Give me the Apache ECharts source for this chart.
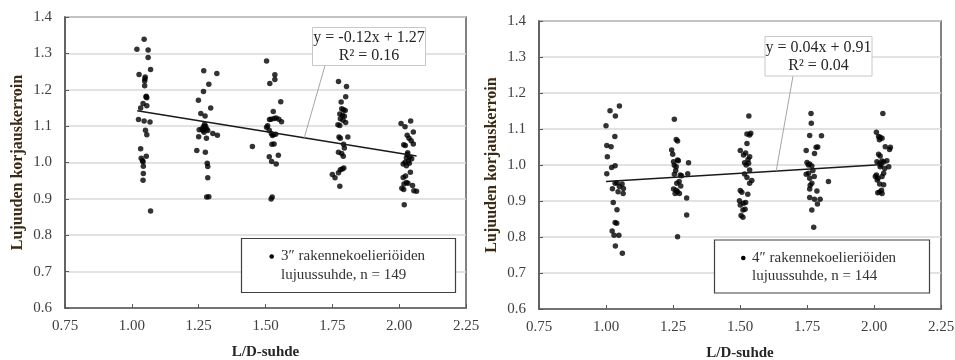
<!DOCTYPE html>
<html><head><meta charset="utf-8">
<script src="https://cdn.jsdelivr.net/npm/echarts@6/dist/echarts.min.js"></script>
<style>html,body{margin:0;padding:0;background:#fff}#c{width:955px;height:360px}</style>
</head><body><div id="c"></div>
<script>
// ---- data ----
var xTicks = [0.75, 1.00, 1.25, 1.50, 1.75, 2.00, 2.25];
var yTicks = [0.6, 0.7, 0.8, 0.9, 1.0, 1.1, 1.2, 1.3, 1.4];

// 3" specimens, n = 149
var s3_g100 = [[1.046,1.339],[1.019,1.311],[1.061,1.309],[1.061,1.289],[1.070,1.256],[1.027,1.242],[1.050,1.235],[1.048,1.224],[1.048,1.211],[1.054,1.182],[1.056,1.178],[1.042,1.162],[1.056,1.156],[1.033,1.150],[1.025,1.118],[1.046,1.114],[1.068,1.111],[1.051,1.089],[1.056,1.076],[1.033,1.038],[1.054,1.017],[1.035,1.012],[1.042,1.002],[1.043,0.990],[1.043,0.970],[1.042,0.951],[1.070,0.867],[1.049,1.230],[1.040,1.005],[1.053,1.180]];
var s3_g125 = [[1.269,1.252],[1.318,1.245],[1.288,1.215],[1.268,1.195],[1.249,1.171],[1.295,1.150],[1.258,1.135],[1.274,1.128],[1.272,1.105],[1.268,1.098],[1.273,1.094],[1.262,1.092],[1.252,1.090],[1.266,1.088],[1.280,1.092],[1.284,1.088],[1.276,1.100],[1.303,1.080],[1.320,1.075],[1.250,1.071],[1.279,1.067],[1.243,1.033],[1.275,1.028],[1.282,0.998],[1.284,0.989],[1.284,0.958],[1.280,0.905],[1.288,0.906],[1.270,1.083]];
var s3_g150 = [[1.504,1.279],[1.535,1.241],[1.535,1.228],[1.516,1.217],[1.557,1.167],[1.529,1.140],[1.521,1.119],[1.515,1.118],[1.532,1.121],[1.540,1.122],[1.550,1.119],[1.560,1.112],[1.504,1.097],[1.514,1.089],[1.522,1.080],[1.530,1.077],[1.538,1.078],[1.526,1.074],[1.532,1.051],[1.524,1.050],[1.514,1.016],[1.548,1.020],[1.523,1.003],[1.540,0.996],[1.451,1.044],[1.525,0.905],[1.521,0.900],[1.508,1.101]];
var s3_g175 = [[1.773,1.223],[1.803,1.209],[1.800,1.181],[1.783,1.166],[1.785,1.148],[1.792,1.145],[1.798,1.143],[1.778,1.133],[1.788,1.130],[1.795,1.127],[1.780,1.120],[1.790,1.116],[1.800,1.110],[1.771,1.104],[1.778,1.102],[1.775,1.070],[1.780,1.067],[1.808,1.070],[1.792,1.050],[1.795,1.040],[1.773,1.028],[1.785,1.025],[1.791,1.017],[1.780,0.980],[1.787,0.982],[1.793,0.985],[1.773,0.972],[1.750,0.967],[1.760,0.958],[1.778,0.935]];
var s3_g200 = [[2.007,1.107],[2.043,1.114],[2.022,1.098],[2.053,1.084],[2.030,1.075],[2.037,1.067],[2.017,1.049],[2.023,1.047],[2.053,1.051],[2.030,1.022],[2.040,1.015],[2.027,1.013],[2.047,1.010],[2.035,1.004],[2.022,1.001],[2.038,0.998],[2.015,0.996],[2.027,0.991],[2.042,0.973],[2.024,0.963],[2.015,0.959],[2.027,0.945],[2.018,0.941],[2.033,0.943],[2.050,0.937],[2.010,0.929],[2.017,0.926],[2.055,0.922],[2.065,0.921],[2.019,0.884],[2.032,1.027],[2.045,1.060]];
var s3_trend = [[1.02,1.142],[2.065,1.018]];
var s3_eq = ['y = -0.12x + 1.27', 'R² = 0.16'];
var s3_legend = ['3″ rakennekoelieriöiden', 'lujuussuhde, n = 149'];

// 4" specimens, n = 144
var s4_g100 = [[1.050,1.164],[1.015,1.151],[1.035,1.136],[1.000,1.109],[1.033,1.079],[1.003,1.054],[1.019,1.051],[1.005,1.023],[1.034,0.998],[1.021,0.993],[1.003,0.976],[1.034,0.949],[1.041,0.951],[1.060,0.947],[1.050,0.940],[1.065,0.935],[1.024,0.934],[1.045,0.926],[1.027,0.896],[1.041,0.876],[1.034,0.840],[1.040,0.838],[1.023,0.817],[1.030,0.805],[1.048,0.805],[1.035,0.775],[1.061,0.755],[1.064,0.921]];
var s4_g125 = [[1.255,1.127],[1.262,1.071],[1.267,1.067],[1.245,1.042],[1.249,1.030],[1.252,1.009],[1.267,1.014],[1.255,0.999],[1.262,0.995],[1.308,1.006],[1.277,0.972],[1.255,0.974],[1.305,0.976],[1.273,0.954],[1.264,0.949],[1.279,0.942],[1.252,0.933],[1.267,0.926],[1.274,0.921],[1.258,0.921],[1.301,0.908],[1.301,0.861],[1.267,0.801],[1.270,1.012],[1.260,0.985],[1.282,0.970],[1.262,0.930]];
var s4_g150 = [[1.533,1.136],[1.526,1.086],[1.536,1.083],[1.526,1.060],[1.501,1.040],[1.521,1.033],[1.513,1.028],[1.536,1.023],[1.517,1.006],[1.532,1.005],[1.523,1.000],[1.536,0.986],[1.517,0.975],[1.526,0.965],[1.544,0.957],[1.536,0.949],[1.529,0.919],[1.501,0.929],[1.507,0.924],[1.498,0.901],[1.513,0.894],[1.501,0.889],[1.521,0.896],[1.519,0.877],[1.511,0.875],[1.504,0.860],[1.511,0.855],[1.540,1.088],[1.530,1.015]];
var s4_g175 = [[1.765,1.143],[1.766,1.116],[1.760,1.082],[1.804,1.081],[1.784,1.049],[1.778,1.032],[1.747,1.040],[1.750,1.007],[1.760,1.003],[1.768,0.997],[1.756,0.977],[1.747,0.974],[1.777,0.968],[1.760,0.963],[1.768,0.949],[1.762,0.944],[1.830,0.954],[1.760,0.933],[1.787,0.928],[1.760,0.910],[1.778,0.905],[1.799,0.905],[1.789,0.892],[1.768,0.875],[1.775,0.827],[1.790,1.050],[1.772,0.985],[1.755,1.000]];
var s4_g200 = [[2.033,1.143],[2.009,1.091],[2.023,1.077],[2.017,1.079],[2.030,1.074],[2.042,1.051],[2.061,1.049],[2.058,1.043],[2.017,1.030],[2.023,1.025],[2.011,1.009],[2.030,1.011],[2.021,1.005],[2.036,1.008],[2.023,0.995],[2.055,0.995],[2.005,0.968],[2.015,0.963],[2.030,0.968],[2.036,0.977],[2.021,0.947],[2.036,0.945],[2.014,0.923],[2.030,0.921],[2.021,0.925],[2.009,0.972],[2.040,0.990],[2.026,1.000],[2.048,1.012],[2.012,0.958],[2.020,1.070],[2.028,0.930]];
var s4_trend = [[1.00,0.954],[2.02,1.001]];
var s4_eq = ['y = 0.04x + 0.91', 'R² = 0.04'];
var s4_legend = ['4″ rakennekoelieriöiden', 'lujuussuhde, n = 144'];

var xName = 'L/D-suhde';
var yName = 'Lujuuden korjauskerroin';

// ---- chart ----
var FONT = '"Liberation Serif", "Times New Roman", serif';
var chart = echarts.init(document.getElementById('c'), null, {renderer: 'canvas'});

function mkX(i) {
  return {
    type: 'value', gridIndex: i, min: xTicks[0], max: xTicks[xTicks.length - 1], interval: 0.25,
    axisLine: {show: true, onZero: false, lineStyle: {color: '#595959', width: 1.5}},
    axisTick: {show: true, inside: true, length: 4, lineStyle: {color: '#595959'}},
    axisLabel: {formatter: function (v) { return v.toFixed(2); }, fontFamily: FONT, fontSize: 15, color: '#404040', margin: 11},
    splitLine: {show: false},
    name: xName, nameLocation: 'middle', nameGap: 37,
    nameTextStyle: {fontFamily: FONT, fontWeight: 'bold', fontSize: 15, color: '#262626'}
  };
}
function mkY(i) {
  return {
    type: 'value', gridIndex: i, min: yTicks[0], max: yTicks[yTicks.length - 1], interval: 0.1,
    axisLine: {show: true, onZero: false, lineStyle: {color: '#595959', width: 1.5}},
    axisTick: {show: true, inside: true, length: 4, lineStyle: {color: '#595959'}},
    axisLabel: {formatter: function (v) { return v.toFixed(1); }, fontFamily: FONT, fontSize: 15, color: '#404040', margin: 13},
    splitLine: {show: true, lineStyle: {color: '#d9d9d9', width: 1.5}},
    name: yName, nameLocation: 'middle', nameGap: 39, nameRotate: 90,
    nameTextStyle: {fontFamily: FONT, fontWeight: 'bold', fontSize: 16, color: '#3b2a12'}
  };
}
function sc(i, d) {
  return {type: 'scatter', xAxisIndex: i, yAxisIndex: i, data: d, symbolSize: 5.5,
          itemStyle: {color: '#000'}, silent: true, z: 3};
}
function tl(i, d) {
  return {type: 'line', xAxisIndex: i, yAxisIndex: i, data: d, symbol: 'none',
          lineStyle: {color: '#1a1a1a', width: 1.5}, silent: true, z: 4};
}

chart.setOption({
  animation: false,
  backgroundColor: '#fff',
  grid: [
    {left: 65, top: 17, width: 401, height: 291, containLabel: false, outerBoundsMode: 'none', show: true, borderColor: '#595959', borderWidth: 1.5, backgroundColor: '#fff'},
    {left: 539, top: 21, width: 402, height: 288, containLabel: false, outerBoundsMode: 'none', show: true, borderColor: '#595959', borderWidth: 1.5, backgroundColor: '#fff'}
  ],
  xAxis: [mkX(0), mkX(1)],
  yAxis: [mkY(0), mkY(1)],
  series: [
    sc(0, s3_g100), sc(0, s3_g125), sc(0, s3_g150), sc(0, s3_g175), sc(0, s3_g200), tl(0, s3_trend),
    sc(1, s4_g100), sc(1, s4_g125), sc(1, s4_g150), sc(1, s4_g175), sc(1, s4_g200), tl(1, s4_trend)
  ]
});

function onTrend(tr, x) {
  var t = (x - tr[0][0]) / (tr[1][0] - tr[0][0]);
  return [x, tr[0][1] + t * (tr[1][1] - tr[0][1])];
}
var p0 = chart.convertToPixel({gridIndex: 0}, onTrend(s3_trend, 1.645));
var p1 = chart.convertToPixel({gridIndex: 1}, onTrend(s4_trend, 1.635));

function eqBox(x, y, w, h, lines, from, to) {
  return [
    {type: 'line', z: 100, shape: {x1: from[0], y1: from[1], x2: to[0], y2: to[1]}, style: {stroke: '#a6a6a6', lineWidth: 1}},
    {type: 'rect', z: 101, shape: {x: x, y: y, width: w, height: h}, style: {fill: '#fff', stroke: '#c8c8c8', lineWidth: 1}},
    {type: 'text', z: 102, x: x + w / 2, y: y + h * 0.28, style: {text: lines[0], font: '16px ' + FONT, fill: '#262626', align: 'center', verticalAlign: 'middle'}},
    {type: 'text', z: 102, x: x + w / 2, y: y + h * 0.75, style: {text: lines[1], font: '16px ' + FONT, fill: '#262626', align: 'center', verticalAlign: 'middle'}}
  ];
}
function legBox(x, y, w, h, bx, tx, lines) {
  return [
    {type: 'rect', z: 101, shape: {x: x, y: y, width: w, height: h}, style: {fill: '#fff', stroke: '#404040', lineWidth: 1.2}},
    {type: 'circle', z: 102, shape: {cx: bx, cy: y + 18, r: 2.3}, style: {fill: '#000'}},
    {type: 'text', z: 102, x: tx, y: y + 18, style: {text: lines[0], font: '15px ' + FONT, fill: '#333', align: 'left', verticalAlign: 'middle'}},
    {type: 'text', z: 102, x: tx, y: y + 36.5, style: {text: lines[1], font: '15px ' + FONT, fill: '#333', align: 'left', verticalAlign: 'middle'}}
  ];
}

chart.setOption({
  graphic: [].concat(
    eqBox(312.5, 27.5, 113, 38, s3_eq, [325, 65.5], p0),
    eqBox(765, 36.5, 107, 39.5, s4_eq, [793, 76], p1),
    legBox(241.5, 238.5, 214, 54, 271.7, 281, s3_legend),
    legBox(714.5, 240, 215, 53, 743.3, 752, s4_legend)
  )
});
</script></body></html>
